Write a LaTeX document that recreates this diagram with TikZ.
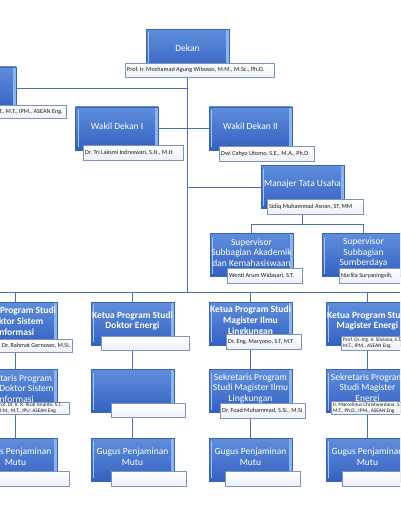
\documentclass[tikz,border=0pt]{standalone}
\usepackage{fontspec}
\setmainfont{Carlito}
\frenchspacing
\definecolor{btop}{HTML}{5F8EDC}
\definecolor{bbot}{HTML}{3461C1}
\definecolor{bedge}{HTML}{3B63B5}
\definecolor{bevel}{HTML}{8CB4EE}
\definecolor{bhi}{HTML}{A6C4F0}
\definecolor{nedge}{HTML}{7F93BF}
\definecolor{nbot}{HTML}{ECF0F8}
\definecolor{ntext}{HTML}{1A1A1A}
\definecolor{conn}{HTML}{4F71B4}
\tikzset{
  obox/.style={draw=bedge, line width=0.6pt, top color=btop, bottom color=bbot,
    minimum width=83pt, minimum height=43pt, inner sep=0pt,
    path picture={
      \fill[bevel] ([xshift=-3.5pt]path picture bounding box.north east) rectangle (path picture bounding box.south east);
      \draw[bhi, line width=0.7pt] ([xshift=2.5pt,yshift=-3pt]path picture bounding box.north west) -- ([xshift=2.5pt,yshift=3pt]path picture bounding box.south west);
    }},
  otext/.style={text=white, align=center, inner sep=0pt, font=\fontsize{9.5}{10.7}\selectfont},
  nbox/.style={draw=nedge, line width=0.6pt, top color=white, bottom color=nbot,
    inner sep=0pt, anchor=north west},
  ntxt/.style={inner sep=0pt, anchor=west, align=left, text=ntext,
    font=\fontsize{6.2}{7}\selectfont},
  twoline/.style={font=\fontsize{5.3}{5.8}\selectfont},
  cline/.style={draw=conn, line width=0.8pt}
}
\newcommand\bx[5][]{%
  \node[obox] (#2) at (#3,#4) {};
  \node[otext,#1] (#2-t) at ([yshift=2.5pt]#2.center) {#5};}
\newcommand\nb[7][]{%
  \pgfmathsetmacro\nbw{#5-#3}\pgfmathsetmacro\nbh{#6-#4}%
  \node[nbox, minimum width=\nbw pt, minimum height=\nbh pt] (#2) at (#3,#4) {};
  \node[ntxt, #1] (#2-t) at ([xshift=2pt]#2.west) {#7};}
\begin{document}
\begin{tikzpicture}[x=1pt,y=-1pt]
\useasboundingbox (0,0) rectangle (400,516);
\clip (0,0) rectangle (400,516);
\fill[white] (0,0) rectangle (400,516);
% top level
\bx{dekan}{187.5}{51}{Dekan}
\nb{dekanN}{125}{63}{274}{77}{Prof. Ir. Mochamad Agung Wibowo, M.M., M.Sc., Ph.D.}
\bx{left}{-25.5}{88.5}{}
\nb[anchor=east, xshift=121pt]{leftN}{-60}{105}{66}{118}{T., M.T., IPM., ASEAN Eng.}
\bx{wd1}{117}{128.5}{Wakil Dekan I}
\nb{wd1N}{83}{145}{183}{160}{Dr. Tri Laksmi Indreswari, S.H., M.H}
\bx{wd2}{250.5}{128.5}{Wakil Dekan II}
\nb{wd2N}{219}{146}{314}{161}{Dwi Cahyo Utomo, S.E., M.A., Ph.D}
\bx{mtu}{302.5}{187}{Manajer Tata Usaha}
\nb{mtuN}{267}{199}{363}{214}{Sidiq Muhammad Asnan, ST, MM}
\bx{sup1}{251.5}{255}{Supervisor\\Subbagian Akademik\\dan Kemahasiswaan}
\nb{sup1N}{227}{268}{302}{283}{Wenti Arum Widasari, S.T.}
\bx{sup2}{363.5}{255}{Supervisor\\Subbagian\\Sumberdaya}
\nb{sup2N}{339}{268}{440}{283}{Nurlila Suryaningsih,}
% row 1
\bx[font=\fontsize{9.5}{10.7}\selectfont\bfseries]{ra1}{15.5}{323.5}{Ketua Program Studi\\Doktor Sistem\\Informasi}
\nb[xshift=40pt]{ra1N}{-40}{339}{72}{352}{Dr. Rahmat Gernowo, M.Si.}
\bx[font=\fontsize{9.5}{10.7}\selectfont\bfseries]{ra2}{132.5}{323.5}{Ketua Program Studi\\Doktor Energi}
\nb{ra2N}{101}{336}{189}{350}{}
\bx[font=\fontsize{9.5}{10.7}\selectfont\bfseries]{ra3}{250.5}{323.5}{Ketua Program Studi\\Magister Ilmu\\Lingkungan}
\nb{ra3N}{226}{334}{301}{349}{Dr. Eng. Maryono, S.T, M.T}
\bx[font=\fontsize{9.5}{10.7}\selectfont\bfseries]{ra4}{367.5}{323.5}{Ketua Program Studi\\Magister Energi}
\nb[twoline]{ra4N}{341}{336}{442}{350}{Prof. Dr.-Ing. Ir. Silviana, S.T.,\\M.T., IPM., ASEAN Eng}
% row 2
\bx{rb1}{15.5}{391}{Sekretaris Program\\Studi Doktor Sistem\\Informasi}
\nb[twoline, xshift=54.5pt]{rb1N}{-60}{402}{69}{414}{Prof. Dr. Ir. R. Rizal Isnanto, S.T.,\\M.M., M.T., IPU, ASEAN Eng}
\bx{rb2}{132.5}{391}{}
\nb{rb2N}{111}{403}{185}{417}{}
\bx{rb3}{250.5}{391}{Sekretaris Program\\Studi Magister Ilmu\\Lingkungan}
\nb{rb3N}{220}{403}{305}{418}{Dr. Fuad Muhammad, S.Si., M.Si}
\bx{rb4}{367.5}{391}{Sekretaris Program\\Studi Magister\\Energi}
\nb[twoline]{rb4N}{331}{401}{440}{414}{Ir. Marcelinus Christwardana, S.T.,\\M.T., Ph.D., IPM., ASEAN Eng}
% row 3
\bx{rc1}{15.5}{459.5}{Gugus Penjaminan\\Mutu}
\nb{rc1N}{-10}{471}{69}{486}{}
\bx{rc2}{132.5}{459.5}{Gugus Penjaminan\\Mutu}
\nb{rc2N}{111}{471}{186}{486}{}
\bx{rc3}{250.5}{459.5}{Gugus Penjaminan\\Mutu}
\nb{rc3N}{225}{471}{300}{486}{}
\bx{rc4}{367.5}{459.5}{Gugus Penjaminan\\Mutu}
\nb{rc4N}{342}{471}{440}{486}{}
% connectors
\coordinate (busL) at (0,292);
\coordinate (busR) at (400,292);
\coordinate (trunk) at (dekan.center |- busL);
\draw[cline] (dekan.center |- dekanN.south) -- (trunk);
\draw[cline] (busL) -- (busR);
\draw[cline] (left.east) -- (left.east -| trunk);
\draw[cline] (wd1.east) -- (wd2.west);
\draw[cline] (mtu.west) -- (mtu.west -| trunk);
\draw[cline] (mtu.center |- mtuN.south) -- ++(0,10) coordinate (sj);
\draw[cline] (sup1.north) |- (sj) -| (sup2.north);
\foreach \c in {1,2,3,4}{
  \draw[cline] (ra\c.north) -- (ra\c.north |- busL);
  \draw[cline] (ra\c.center |- ra\c N.south) -- (rb\c.north);
  \draw[cline] (rb\c.center |- rb\c N.south) -- (rc\c.north);
}
\end{tikzpicture}
\end{document}
